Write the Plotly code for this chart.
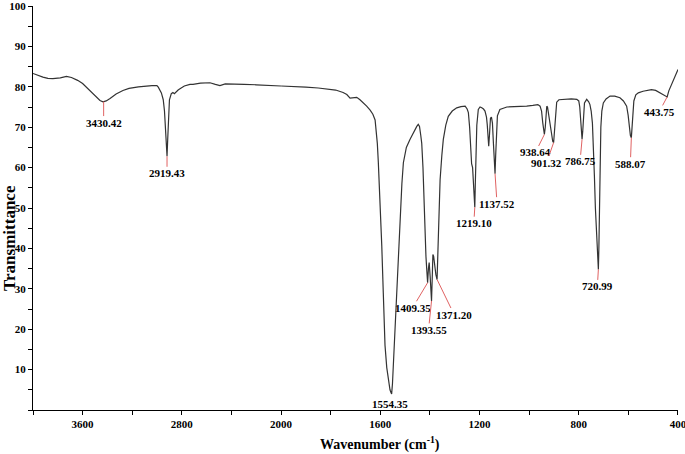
import numpy as np
import plotly.graph_objects as go

# ---------------- data ----------------
wavenumber = [
    4000, 3960, 3920, 3880, 3840, 3780, 3730, 3690, 3640, 3600, 3557, 3500, 3460, 3436, 3410, 3379,
    3330, 3275, 3226, 3150, 3080, 3041, 3001, 2990, 2965, 2950, 2940, 2932, 2925, 2919.43, 2914, 2908,
    2900, 2885, 2872, 2860, 2848, 2830, 2815, 2780, 2735, 2710, 2650, 2573, 2530, 2493, 2450, 2412,
    2300, 2200, 2100, 2036, 2000,
    1950, 1900, 1850, 1816, 1780, 1750, 1735, 1722, 1708, 1695, 1682, 1668, 1655, 1641, 1630, 1621,
    1612, 1608, 1601, 1594, 1588, 1581, 1574, 1568, 1561, 1557, 1554.35, 1551, 1547, 1540, 1534, 1527,
    1520, 1513, 1507, 1495, 1480, 1465, 1453, 1447, 1442, 1437, 1433, 1428, 1424, 1420, 1416, 1413,
    1409.35, 1406, 1403, 1399, 1396, 1393.55, 1391, 1388, 1385, 1381, 1376, 1371.2, 1368, 1366, 1362,
    1359, 1352, 1346, 1336, 1326, 1310, 1292, 1275, 1258, 1250, 1245, 1240, 1236, 1232, 1228, 1224,
    1221, 1219.1, 1217, 1214, 1211, 1205, 1198, 1191, 1184, 1178, 1172, 1169, 1166, 1163, 1160, 1156,
    1152, 1148, 1144, 1140, 1137.52, 1135, 1132, 1128, 1118, 1100, 1090, 1060, 1030, 1010, 985, 965,
    956, 950, 945, 941, 938.64, 935, 932, 929, 926, 922, 917, 912, 905, 901.32, 898, 894, 889, 880,
    856, 830, 808, 800, 796, 792, 789, 786.75, 784, 781, 777, 768, 760, 755, 750, 745, 741, 737, 733,
    729, 725, 720.99, 719, 717, 714, 711, 707, 701, 690, 674, 655, 634, 620, 607, 601, 596, 592,
    588.07, 585, 582, 578, 570, 560, 541, 525, 507, 490, 473, 460, 450, 443.75, 437, 430, 422, 410, 400,
]
transmittance = [
    83.3, 82.8, 82.4, 82.1, 82.0, 82.2, 82.6, 82.3, 81.6, 80.8, 79.5, 77.6, 76.6, 76.3, 76.5, 77.1,
    78.2, 79.1, 79.6, 80.0, 80.3, 80.3, 80.3, 79.9, 78.5, 76.8, 74.0, 70.0, 66.0, 62.8, 67.0, 73.0,
    76.8, 78.3, 78.6, 78.3, 78.7, 79.2, 79.5, 80.2, 80.6, 80.6, 80.9, 81.0, 80.6, 80.3, 80.7, 80.7,
    80.6, 80.5, 80.4, 80.2, 80.2,
    80.1, 79.9, 79.7, 79.5, 79.2, 78.6, 78.1, 77.2, 77.3, 77.4, 76.8, 76.0, 75.2, 74.2, 73.2, 71.8,
    66.0, 61.3, 52.0, 40.5, 29.0, 16.0, 10.5, 7.5, 5.0, 4.3, 4.0, 6.5, 11.7, 23.0, 32.3, 41.0,
    48.9, 56.0, 61.2, 65.0, 67.0, 69.0, 70.2, 70.7, 70.2, 68.0, 66.0, 60.0, 51.0, 45.0, 38.0, 35.0,
    31.5, 35.0, 36.5, 33.0, 30.0, 27.0, 32.0, 38.5, 38.0, 35.5, 33.5, 32.3, 38.0, 44.7, 52.0,
    57.0, 63.0, 67.0, 70.5, 72.7, 74.0, 74.8, 75.1, 75.2, 74.5, 73.6, 70.0, 65.0, 61.0, 60.0, 56.0,
    51.0, 50.2, 56.0, 65.0, 70.5, 74.4, 75.0, 74.8, 74.5, 74.0, 72.5, 70.7, 67.0, 65.3, 68.0, 72.2,
    72.5, 71.0, 66.0, 60.0, 58.5, 63.0, 69.0, 72.8, 74.4, 74.9, 75.0, 75.1, 75.1, 75.2, 75.4, 75.6,
    75.2, 74.0, 71.0, 68.5, 68.2, 70.0, 74.0, 75.2, 75.0, 73.5, 71.0, 69.0, 66.5, 66.2, 69.0, 73.0, 76.2, 76.8,
    76.9, 77.0, 76.9, 76.5, 75.0, 72.0, 68.5, 67.0, 69.0, 73.0, 76.0, 76.9, 76.3, 75.6, 74.0, 71.0, 66.0, 58.0, 50.0,
    44.0, 39.0, 34.8, 40.0, 50.0, 62.0, 70.0, 74.0, 76.0, 77.0, 77.7, 77.7, 77.3, 76.5, 75.2, 73.0, 70.0, 68.0,
    67.4, 70.0, 74.0, 76.5, 78.0, 78.5, 78.9, 79.1, 79.3, 79.1, 78.5, 78.1, 77.8, 77.5, 79.0, 80.0, 81.5, 83.3, 84.3,
]
peak_wavenumbers = [3430.42, 2919.43, 1554.35, 1409.35, 1393.55, 1371.20, 1219.10, 1137.52,
                    938.64, 901.32, 786.75, 720.99, 588.07, 443.75]
peak_labels = ["3430.42", "2919.43", "1554.35", "1409.35", "1393.55", "1371.20", "1219.10", "1137.52",
               "938.64", "901.32", "786.75", "720.99", "588.07", "443.75"]
x_tick_values_high = [4000, 3600, 3200, 2800, 2400]
x_tick_labels_high = ["", "3600", "", "2800", ""]
x_tick_values_low = [2000, 1800, 1600, 1400, 1200, 1000, 800, 600, 400]
x_tick_labels_low = ["2000", "", "1600", "", "1200", "", "800", "", "400"]
y_tick_values = list(range(0, 101, 5))
y_tick_labels = ["" if (v % 10 or v == 0) else str(v) for v in y_tick_values]

# ---------------- styles / layout ----------------
label_offsets = [(0, 21), (0, 17), (-2, 10), (-15, 25), (-3, 29), (17, 35), (-1, 16), (2, 30),
                 (-9, 18), (-7, 20), (-2, 22), (-1, 17), (-1, 26), (-8, 15)]
FONT = "Liberation Serif, Times New Roman, serif"
CURVE = "#333333"
RED = "#e06262"
W, H = 685, 454
ML, MR, MT, MB = 33, 7, 6, 44
BREAK = 2000
high_span = 4000 - BREAK
low_span = BREAK - 400
split = (high_span / 8.06) / (high_span / 8.06 + low_span / 4.03)

wn = np.array(wavenumber, dtype=float)
tr = np.array(transmittance, dtype=float)
hi = wn >= BREAK
lo = wn <= BREAK

fig = go.Figure()
fig.add_trace(go.Scatter(x=wn[hi], y=tr[hi], xaxis="x", yaxis="y", mode="lines",
                         line=dict(color=CURVE, width=1.2), hoverinfo="x+y", showlegend=False))
fig.add_trace(go.Scatter(x=wn[lo], y=tr[lo], xaxis="x2", yaxis="y", mode="lines",
                         line=dict(color=CURVE, width=1.2), hoverinfo="x+y", showlegend=False))

order = np.argsort(wn)
for pw, lab, (ax, ay) in zip(peak_wavenumbers, peak_labels, label_offsets):
    t_head = float(np.interp(pw, wn[order], tr[order]))
    fig.add_annotation(x=pw, y=t_head, xref="x" if pw >= BREAK else "x2", yref="y",
                       text=lab, showarrow=True, arrowhead=0, arrowwidth=1, arrowcolor=RED,
                       ax=ax, ay=ay, standoff=0, borderpad=0,
                       font=dict(family=FONT, size=11, color="black", weight="bold"))

axis_common = dict(showline=True, linecolor="black", linewidth=1, ticks="outside", ticklen=4,
                   tickcolor="black", tickwidth=1, showgrid=False, zeroline=False,
                   automargin=False, ticklabeloverflow="allow",
                   tickfont=dict(family=FONT, size=11, color="black", weight="bold"),
                   tickmode="array")
fig.update_layout(
    template="none",
    width=W, height=H,
    margin=dict(l=ML, r=MR, t=MT, b=MB, autoexpand=False),
    paper_bgcolor="white", plot_bgcolor="white",
    xaxis=dict(domain=[0, split], range=[4000, BREAK], anchor="y",
               tickvals=x_tick_values_high, ticktext=x_tick_labels_high, **axis_common),
    xaxis2=dict(domain=[split, 1], range=[BREAK, 400], anchor="y",
                tickvals=x_tick_values_low, ticktext=x_tick_labels_low, **axis_common),
    yaxis=dict(domain=[0, 1], range=[0, 100], anchor="x",
               tickvals=y_tick_values, ticktext=y_tick_labels, **axis_common),
    showlegend=False,
)

plot_w = W - ML - MR
plot_h = H - MT - MB
fig.add_annotation(text="Wavenumber (cm<sup>-1</sup>)", xref="paper", yref="paper",
                   x=(380 - ML) / plot_w, y=-(443 - (H - MB)) / plot_h, showarrow=False,
                   xanchor="center", yanchor="middle",
                   font=dict(family=FONT, size=14, color="black", weight="bold"))
fig.add_annotation(text="Transmittance", xref="paper", yref="paper",
                   x=(9 - ML) / plot_w, y=((H - MB) - 238) / plot_h, showarrow=False,
                   textangle=-90, xanchor="center", yanchor="middle",
                   font=dict(family=FONT, size=17, color="black", weight="bold"))

fig.write_html("out.html", config={"displayModeBar": False},
               post_script="document.body.style.margin='0';document.body.style.overflow='hidden';")
